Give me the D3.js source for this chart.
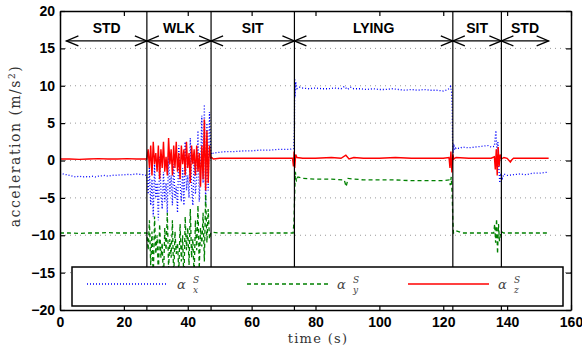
<!DOCTYPE html>
<html>
<head>
<meta charset="utf-8">
<script src="https://cdn.jsdelivr.net/npm/d3@7"></script>
<style>
  body { margin: 0; background: #fff; }
  .tick text { font-family: "Liberation Sans", Arial, sans-serif; font-weight: bold; font-size: 14px; fill: #000; }
</style>
</head>
<body>
<div id="chart"></div>
<script>
var w = 582;
var h = 350;

// activity segments (start, end in s) and their labels
var activities = ["STD", "WLK", "SIT", "LYING", "SIT", "STD"];
var segStart = [2, 27.2, 47.3, 73.4, 123, 138.2];
var segEnd = [27.2, 47.3, 73.4, 123, 138.2, 153];
var boundaries = [27.2, 47.3, 73.4, 123, 138.2];

var xTicks = [0, 20, 40, 60, 80, 100, 120, 140, 160];
var yTicks = [-20, -15, -10, -5, 0, 5, 10, 15, 20];

// acceleration along x (blue, dotted)
var accX = [[0,-1.6],[1,-1.8],[2,-1.9],[3,-2.0],[4,-2.1],[5,-2.2],[6,-2.1],[7,-2.2],[8,-2.15],[9,-2.2],[10,-2.1],[11,-2.2],[12,-2.1],[13,-2.05],[14,-2.0],[15,-2.1],[16,-2.0],[17,-1.95],[18,-2.0],[19,-1.9],[20,-1.95],[21,-1.85],[22,-1.9],[23,-1.85],[24,-1.8],[25,-1.85],[26,-1.9],[27,-2.0],
  [27.2,-2.2],[27.6,-4.5],[28.0,-1.0],[28.4,-6.0],[28.8,-2.5],[29.2,-7.5],[29.6,-0.5],[30.0,-5.0],[30.4,-3.0],[30.8,-8.0],[31.2,0.5],[31.6,-4.0],[32.0,-6.5],[32.4,-1.5],[32.8,-5.5],[33.2,-3.0],[33.6,-7.0],[34.0,1.0],[34.4,-4.5],[34.8,-2.0],[35.2,-6.0],[35.6,-0.5],[36.0,-5.0],[36.4,-3.5],[36.8,-7.0],[37.2,2.0],[37.6,-3.0],[38.0,-5.5],[38.4,-1.0],[38.8,-6.0],[39.2,2.5],[39.6,-4.0],[40.0,-2.0],[40.4,-5.0],[40.8,3.0],[41.2,-3.5],[41.6,-6.0],[42.0,0.5],[42.4,-4.5],[42.8,-2.5],[43.2,4.0],[43.6,-5.5],[44.0,-1.5],[44.4,6.0],[44.8,-3.0],[45.2,7.5],[45.6,-6.0],[46.0,5.0],[46.4,-4.0],[46.8,6.5],[47.2,1.2],
  [47.5,0.8],[48,1.0],[50,1.1],[52,1.2],[55,1.2],[58,1.3],[60,1.3],[63,1.4],[66,1.4],[69,1.5],[72,1.5],[73.2,1.6],[73.4,4.0],[73.5,11.0],[73.6,8.5],[73.8,10.5],[74.2,9.6],[75,9.8],
  [76,9.7],[78,9.6],[80,9.7],[82,9.6],[84,9.6],[86,9.7],[88,9.6],[89,9.9],[90,9.5],[91,9.8],[92,9.6],[94,9.6],[96,9.5],[98,9.6],[100,9.5],[102,9.5],[104,9.6],[106,9.5],[108,9.4],[110,9.5],[112,9.4],[114,9.5],[116,9.4],[118,9.4],[120,9.3],[121.5,9.5],[122.3,9.9],[122.6,9.2],[122.8,7.0],[122.9,3.0],[123.1,1.0],[123.3,2.2],[123.6,1.4],[124,1.7],[125,1.6],[126,1.8],[128,1.7],[130,1.8],[132,1.9],[134,2.0],[135,1.8],[136,1.9],[136.5,4.0],[136.8,1.0],[137.1,2.5],[137.4,-1.0],[137.7,-3.0],[138,-2.0],[138.5,-2.4],[139,-1.8],[140,-2.0],[142,-1.9],[144,-1.8],[146,-1.9],[148,-1.7],[150,-1.7],[152,-1.6],[153,-1.6]];

// acceleration along y (green, dashed)
var accY = [[0,-9.7],[3,-9.7],[6,-9.75],[9,-9.7],[12,-9.7],[15,-9.65],[18,-9.7],[21,-9.7],[24,-9.7],[27,-9.7],
  [27.2,-9.7],[27.6,-12.0],[28.0,-8.0],[28.4,-14.0],[28.8,-9.5],[29.2,-16.0],[29.6,-7.5],[30.0,-12.5],[30.4,-10.0],[30.8,-15.5],[31.2,-8.5],[31.6,-13.0],[32.0,-11.0],[32.4,-16.5],[32.8,-9.0],[33.2,-12.0],[33.6,-7.0],[34.0,-14.5],[34.4,-10.5],[34.8,-13.0],[35.2,-8.0],[35.6,-16.0],[36.0,-9.5],[36.4,-12.5],[36.8,-11.0],[37.2,-15.0],[37.6,-8.5],[38.0,-13.5],[38.4,-10.0],[38.8,-16.5],[39.2,-7.5],[39.6,-12.0],[40.0,-9.0],[40.4,-14.0],[40.8,-6.5],[41.2,-13.0],[41.6,-10.5],[42.0,-15.5],[42.4,-8.0],[42.8,-12.0],[43.2,-6.0],[43.6,-14.5],[44.0,-9.0],[44.4,-11.5],[44.8,-7.0],[45.2,-13.5],[45.6,-4.5],[46.0,-11.0],[46.4,-6.5],[46.8,-10.5],[47.2,-9.7],
  [47.5,-9.6],[50,-9.7],[55,-9.7],[60,-9.75],[65,-9.7],[70,-9.7],[73,-9.7],[73.3,-8.0],[73.5,-4.0],[73.7,-1.5],[74,-2.8],[74.5,-2.2],[76,-2.4],[80,-2.5],[85,-2.5],[89,-2.6],[89.6,-3.5],[90.2,-2.4],[95,-2.6],[100,-2.6],[105,-2.6],[110,-2.7],[115,-2.7],[120,-2.7],[121.8,-2.6],[122.2,-3.3],[122.5,-2.2],[122.8,-4.5],[123,-8.0],[123.2,-9.7],[124,-9.4],[126,-9.7],[130,-9.7],[134,-9.7],[135.8,-9.7],[136.1,-8.5],[136.4,-11.0],[136.7,-7.8],[137,-12.5],[137.3,-8.5],[137.6,-10.8],[138,-9.5],[139,-9.7],[142,-9.7],[146,-9.7],[150,-9.7],[153,-9.7]];

// acceleration along z (red, solid)
var accZ = [[0,0.2],[3,0.2],[6,0.15],[9,0.2],[12,0.25],[15,0.2],[18,0.2],[21,0.25],[24,0.2],[27,0.2],
  [27.2,0.2],[27.6,1.5],[28.0,-1.0],[28.4,2.0],[28.8,-2.0],[29.2,2.5],[29.6,-0.5],[30.0,1.0],[30.4,-1.5],[30.8,2.0],[31.2,-2.5],[31.6,1.5],[32.0,-1.0],[32.4,2.5],[32.8,-1.5],[33.2,0.5],[33.6,-2.0],[34.0,3.0],[34.4,-0.5],[34.8,1.5],[35.2,-2.0],[35.6,2.0],[36.0,-1.0],[36.4,2.5],[36.8,-1.5],[37.2,1.0],[37.6,-2.5],[38.0,2.0],[38.4,-0.5],[38.8,1.5],[39.2,-2.0],[39.6,2.5],[40.0,-1.0],[40.4,1.0],[40.8,-3.0],[41.2,2.0],[41.6,-0.5],[42.0,1.5],[42.4,-2.0],[42.8,2.0],[43.2,-1.5],[43.6,1.0],[44.0,-3.5],[44.4,2.0],[44.8,-2.5],[45.2,5.5],[45.6,-4.0],[46.0,4.0],[46.4,-3.0],[46.8,2.0],[47.2,0.3],
  [47.5,0.4],[48,0.2],[50,0.3],[55,0.3],[60,0.3],[65,0.3],[70,0.3],[72.8,0.3],[73.1,-0.8],[73.3,1.2],[73.5,-1.0],[73.8,0.8],[74.2,0.4],[76,0.3],[80,0.3],[85,0.4],[88,0.3],[89.5,0.7],[90.5,0.2],[92,0.4],[95,0.3],[100,0.3],[105,0.4],[110,0.3],[115,0.3],[120,0.3],[121.8,0.4],[122.1,-1.0],[122.4,1.2],[122.7,-1.6],[123,0.8],[123.3,0.2],[124,0.4],[128,0.3],[132,0.3],[135,0.3],[136,0.5],[136.3,-1.2],[136.6,1.5],[136.9,-2.0],[137.2,1.8],[137.5,-0.8],[137.8,0.8],[138.2,0.2],[139,0.4],[140,0.3],[141,-0.2],[141.5,0.1],[142,0.3],[145,0.3],[150,0.3],[153,0.3]];

var series = [
  {name: "x", data: accX, color: "#0000ff", dash: "1,2"},
  {name: "y", data: accY, color: "#008000", dash: "4,3"},
  {name: "z", data: accZ, color: "#ff0000", dash: null}
];

var xScale = d3.scaleLinear().domain([0, 160]).range([60, 571]);
var yScale = d3.scaleLinear().domain([-20, 20]).range([310, 11]);

var svg = d3.select("#chart").append("svg")
  .attr("width", w)
  .attr("height", h);

// horizontal dotted grid
svg.selectAll("line.grid")
  .data(yTicks.slice(1, -1))
  .enter().append("line")
  .attr("class", "grid")
  .attr("x1", xScale(0)).attr("x2", xScale(160))
  .attr("y1", function(d) { return yScale(d); })
  .attr("y2", function(d) { return yScale(d); })
  .attr("stroke", "#999")
  .attr("stroke-width", 1)
  .attr("stroke-dasharray", "1,4");

svg.append("defs").append("clipPath").attr("id", "clip")
  .append("rect")
  .attr("x", 60).attr("y", 11).attr("width", 511).attr("height", 299);

var line = d3.line()
  .x(function(d) { return xScale(d[0]); })
  .y(function(d) { return yScale(d[1]); });

series.forEach(function(s) {
  svg.append("path")
    .datum(s.data)
    .attr("clip-path", "url(#clip)")
    .attr("d", line)
    .attr("fill", "none")
    .attr("stroke", s.color)
    .attr("stroke-width", s.dash ? 1.3 : 1.4)
    .attr("stroke-dasharray", s.dash);
});

// activity boundaries
svg.selectAll("line.bound")
  .data(boundaries)
  .enter().append("line")
  .attr("x1", function(d) { return xScale(d); })
  .attr("x2", function(d) { return xScale(d); })
  .attr("y1", yScale(20)).attr("y2", yScale(-20))
  .attr("stroke", "#000")
  .attr("stroke-width", 1.2);

// double arrows + labels
var arrowY = yScale(16);
activities.forEach(function(a, i) {
  var x1 = xScale(segStart[i]), x2 = xScale(segEnd[i]);
  var g = svg.append("g").attr("stroke", "#000").attr("stroke-width", 1.3).attr("fill", "none");
  g.append("line").attr("x1", x1).attr("x2", x2).attr("y1", arrowY).attr("y2", arrowY);
  g.append("path").attr("d", "M" + (x1 + 12) + "," + (arrowY - 5) + "L" + x1 + "," + arrowY + "L" + (x1 + 12) + "," + (arrowY + 5));
  g.append("path").attr("d", "M" + (x2 - 12) + "," + (arrowY - 5) + "L" + x2 + "," + arrowY + "L" + (x2 - 12) + "," + (arrowY + 5));
  svg.append("text")
    .text(a)
    .attr("x", (x1 + x2) / 2)
    .attr("y", arrowY - 8)
    .attr("text-anchor", "middle")
    .attr("font-family", "Liberation Sans, Arial, sans-serif")
    .attr("font-weight", "bold")
    .attr("font-size", "14px");
});

// axes (ticks inside, MATLAB box style)
var fmt = function(d) { return d < 0 ? "\u2212" + Math.abs(d) : d; };
svg.append("g")
  .attr("transform", "translate(0," + yScale(-20) + ")")
  .call(d3.axisBottom(xScale).tickValues(xTicks).tickSize(-5).tickSizeOuter(0).tickPadding(7).tickFormat(fmt));
svg.append("g")
  .attr("transform", "translate(0," + yScale(20) + ")")
  .call(d3.axisTop(xScale).tickValues(xTicks).tickSize(-5).tickSizeOuter(0).tickFormat(""));
svg.append("g")
  .attr("transform", "translate(" + xScale(0) + ",0)")
  .call(d3.axisLeft(yScale).tickValues(yTicks).tickSize(-5).tickSizeOuter(0).tickPadding(5).tickFormat(fmt));
svg.append("g")
  .attr("transform", "translate(" + xScale(160) + ",0)")
  .call(d3.axisRight(yScale).tickValues(yTicks).tickSize(-5).tickSizeOuter(0).tickFormat(""));
svg.selectAll(".domain").attr("stroke", "#000").attr("stroke-width", 1.5);
svg.selectAll(".tick line").attr("stroke", "#000").attr("stroke-width", 1.2);

// legend
var legX = 72, legY = 267, legW = 491, legH = 39;
svg.append("rect")
  .attr("x", legX).attr("y", legY).attr("width", legW).attr("height", legH)
  .attr("fill", "#fff").attr("stroke", "#000").attr("stroke-width", 1.5);
var legStart = [87, 247, 408];
series.forEach(function(s, i) {
  var lx = legStart[i], ly = legY + 17;
  svg.append("line")
    .attr("x1", lx).attr("x2", lx + 81).attr("y1", ly).attr("y2", ly)
    .attr("stroke", s.color).attr("stroke-width", 1.3)
    .attr("stroke-dasharray", s.dash);
  var t = svg.append("g").attr("font-family", "DejaVu Serif, serif").attr("font-style", "italic").attr("fill", "#444");
  t.append("text").text("\u03b1").attr("x", lx + 90).attr("y", ly + 5).attr("font-size", "13px");
  t.append("text").text("S").attr("x", lx + 106).attr("y", ly - 1).attr("font-size", "9px");
  t.append("text").text(s.name).attr("x", lx + 106).attr("y", ly + 9).attr("font-size", "9px");
});

// axis titles
svg.append("text")
  .attr("transform", "translate(20," + 146 + ") rotate(-90)")
  .attr("text-anchor", "middle")
  .attr("font-family", "DejaVu Serif, serif")
  .attr("font-size", "14px")
  .attr("letter-spacing", "1.5px")
  .attr("fill", "#333")
  .html("acceleration (m/s<tspan dy='-5' font-size='9px'>2</tspan><tspan dy='5'>)</tspan>");
svg.append("text")
  .attr("x", 318).attr("y", 343)
  .attr("text-anchor", "middle")
  .attr("font-family", "DejaVu Serif, serif")
  .attr("font-size", "13px")
  .attr("letter-spacing", "1.3px")
  .attr("fill", "#333")
  .text("time (s)");
</script>
</body>
</html>
